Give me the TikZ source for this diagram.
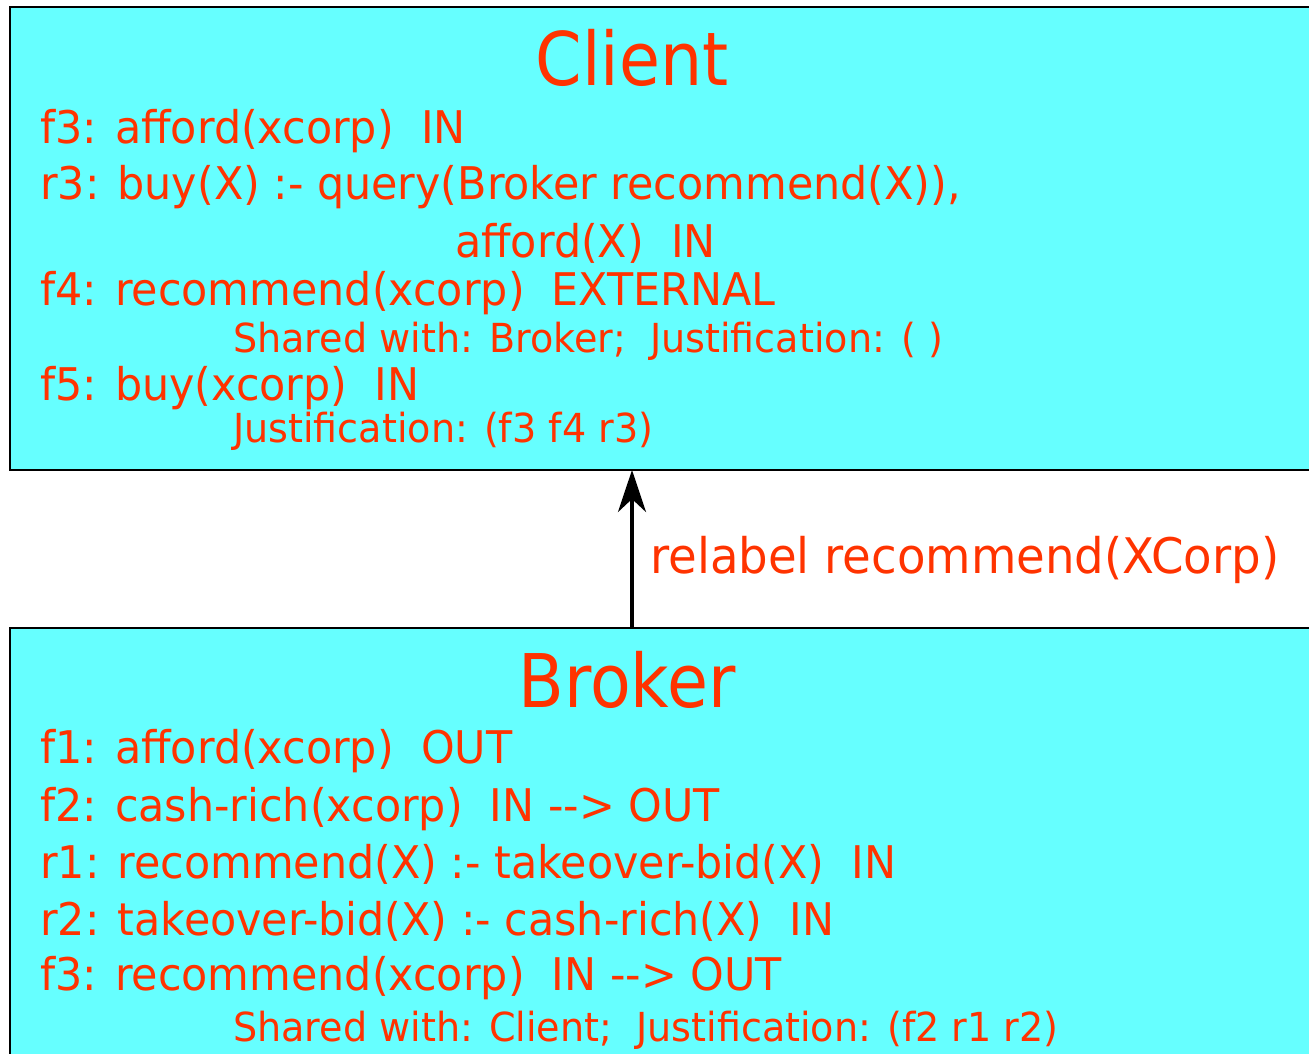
\documentclass[tikz,border=0pt]{standalone}
\usepackage{fontspec}
\setmainfont{DejaVu Sans}[FakeStretch=0.952]
\newfontfamily\headfont{DejaVu Sans}[FakeStretch=0.9]
\usetikzlibrary{arrows.meta}
\definecolor{boxfill}{HTML}{66FFFF}
\definecolor{txt}{HTML}{FF3300}
\begin{document}
\begin{tikzpicture}[x=1pt,y=-1pt,
  agentbox/.style={draw=black,line width=2.5pt,fill=boxfill},
  body/.style={anchor=base west,inner sep=0pt,text=txt,font=\fontsize{45}{45}\selectfont},
  note/.style={anchor=base west,inner sep=0pt,text=txt,font=\fontsize{40}{40}\selectfont},
  msgtext/.style={anchor=base west,inner sep=0pt,text=txt,font=\fontsize{49}{49}\selectfont},
  title/.style={anchor=base,inner sep=0pt,text=txt,font=\headfont\fontsize{74}{74}\selectfont}]
\useasboundingbox (0,0) rectangle (1309,1053);
\clip (0,0) rectangle (1309,1053);
% Client agent
\draw[agentbox] (10,7) rectangle (1330,470);
\coordinate (clientbot) at (632,470);
\node[title] (ctitle) at (632,85) {Client};
\node[body] (cf3) at (40,143) {f3: afford(xcorp)\ \ IN};
\node[body] (cr3) at (40,199) {r3: buy(X) :- query(Broker recommend(X)),};
\node[body] (cr3b) at (455,257) {afford(X)\ \ IN};
\node[body] (cf4) at (40,305) {f4: recommend(xcorp)\ \ EXTERNAL};
\node[note] (cf4n) at (233,352) {Shared with: Broker;\ \ Justification: ( )};
\node[body] (cf5) at (40,400) {f5: buy(xcorp)\ \ IN};
\node[note] (cf5n) at (233,442) {Justification: (f3 f4 r3)};
% Broker agent
\draw[agentbox] (10,628) rectangle (1330,1080);
\coordinate (brokertop) at (632,628);
\node[title] (btitle) at (627,707) {Broker};
\node[body] (bf1) at (40,763) {f1: afford(xcorp)\ \ OUT};
\node[body] (bf2) at (40,821) {f2: cash-rich(xcorp)\ \ IN -{}-{}> OUT};
\node[body] (br1) at (40,878) {r1: recommend(X) :- takeover-bid(X)\ \ IN};
\node[body] (br2) at (40,935) {r2: takeover-bid(X) :- cash-rich(X)\ \ IN};
\node[body] (bf3) at (40,990) {f3: recommend(xcorp)\ \ IN -{}-{}> OUT};
\node[note] (bf3n) at (233,1041) {Shared with: Client;\ \ Justification: (f2 r1 r2)};
% relabel message
\draw[line width=4pt,-{Stealth[length=42pt,width=28pt,inset=13pt]}] (brokertop) -- (clientbot);
\node[msgtext] (msg) at (650,573) {relabel recommend(XCorp)};
\end{tikzpicture}
\end{document}
